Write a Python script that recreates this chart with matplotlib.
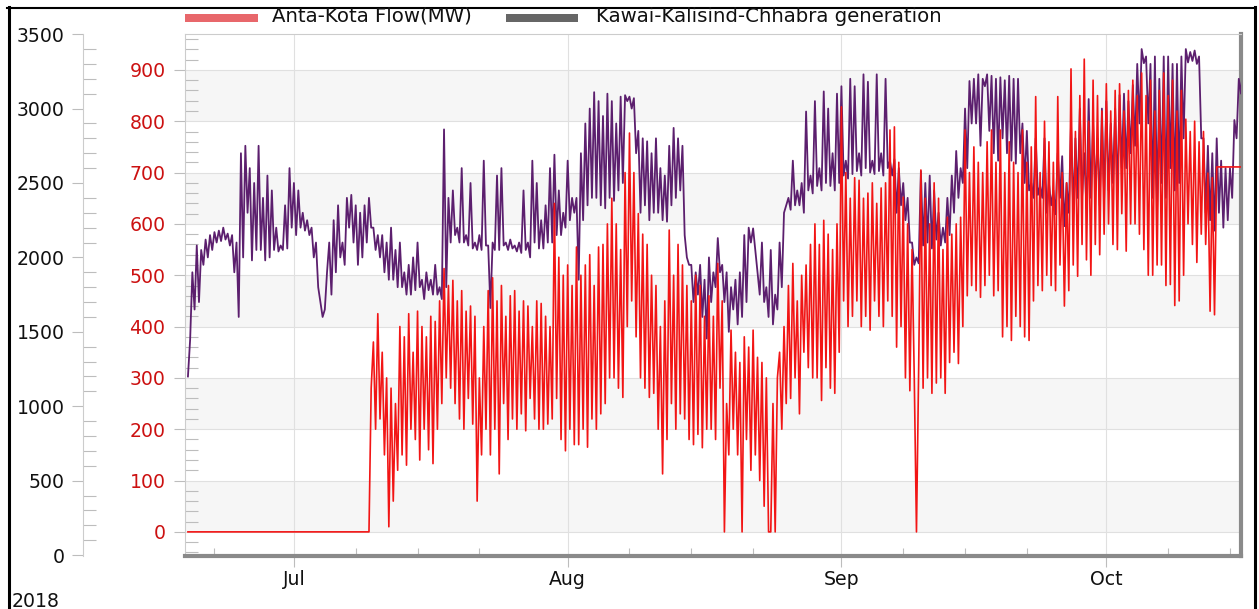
import matplotlib
matplotlib.use("Agg")
import matplotlib.pyplot as plt
import matplotlib.dates as mdates
from matplotlib.ticker import MultipleLocator, FixedLocator
from matplotlib.lines import Line2D
from matplotlib.patches import Rectangle
import pandas as pd

plt.rcParams['font.family'] = ['DejaVu Sans']

# ---------------- data (4 readings per day, starting 2018-06-19) ----------------
series_start = "2018-06-19"
series_step = "6h"

# Kawai-Kalisind-Chhabra generation (MW) - left black axis
kkc_jun = [1200, 1450, 1900, 1650, 2080, 1700, 2050, 1950, 2120, 2000, 2150, 2050,
           2170, 2100, 2180, 2110, 2200, 2120, 2160, 2080, 2150, 1900, 2100, 1600,
           2700, 2000, 2750, 2300, 2600, 1980, 2500, 2050, 2750, 2050, 2400, 1980,
           2550, 2000, 2450, 2050, 2200, 2040, 2080, 2050, 2350, 2060, 2600, 2200]
kkc_jul = [2500, 2150, 2450, 2200, 2300, 2180, 2250, 2150, 2200, 2000, 2100, 1800,
           1700, 1600, 1650, 1900, 2100, 1750, 2250, 1900, 2350, 2000, 2100, 1950,
           2400, 2200, 2420, 2100, 2350, 1950, 2300, 2000, 2350, 2100, 2400, 2200,
           2200, 2050, 2150, 2000, 2150, 1900, 2100, 1850, 2200, 1850, 2050, 1800,
           2100, 1800, 1900, 1750, 1950, 1750, 2000, 1780, 2100, 1800, 1850, 1720,
           1900, 1780, 1850, 1750, 1950, 1750, 1800, 1720, 2860, 1800, 2400, 2100,
           2450, 2150, 2200, 2100, 2600, 2100, 2150, 2080, 2500, 2060, 2100, 2050,
           2150, 2050, 2650, 2080, 2080, 1660, 2100, 2050, 2550, 2050, 2600, 2080,
           2100, 2050, 2120, 2060, 2080, 2040, 2100, 2030, 2450, 2050, 2100, 2000,
           2650, 2100, 2500, 2060, 2250, 2060, 2350, 2100, 2600, 2100, 2690, 2150,
           2450, 2150, 2300, 2200]
kkc_aug = [2650, 2250, 2400, 2300, 2400, 1850, 2700, 2250, 2900, 2350, 3000, 2400,
           3110, 2400, 3050, 2350, 2950, 2330, 3100, 2400, 3050, 2380, 2900, 2450,
           3080, 2500, 3090, 3050, 3080, 3000, 3070, 2700, 2850, 2300, 2800, 2350,
           2780, 2250, 2700, 2300, 2800, 2300, 2600, 2250, 2550, 2240, 2750, 2350,
           2870, 2400, 2800, 2450, 2750, 2150, 2000, 1950, 1950, 1700, 1900, 1750,
           1950, 1600, 1850, 1455, 2000, 1700, 1900, 1800, 2130, 1900, 1950, 1700,
           1900, 1500, 1800, 1650, 1850, 1550, 1900, 1600, 2150, 1700, 2200, 2100,
           2195, 2050, 1900, 1750, 2100, 1700, 1800, 1600, 2050, 1550, 1750, 1650,
           2100, 1800, 2300, 2350, 2400, 2320, 2650, 2350, 2450, 2350, 2500, 2300,
           2980, 2450, 2550, 2430, 3050, 2480, 2600, 2450, 3115, 2500, 3000, 2480,
           2700, 2450, 3100, 2500]
kkc_sep = [3150, 2550, 2650, 2530, 3200, 2560, 3150, 2580, 2700, 2550, 3230, 2600,
           3180, 2570, 2650, 2560, 3230, 2580, 2700, 2550, 3200, 2600, 2650, 2550,
           2660, 2300, 2600, 2350, 2500, 2250, 2400, 2100, 2100, 1950, 2000, 1960,
           2580, 2080, 2500, 2100, 2550, 2060, 2450, 2120, 2300, 2080, 2200, 2100,
           2400, 2150, 2550, 2300, 2715, 2400, 2600, 2500, 3000, 2600, 3185, 2900,
           3200, 2900, 3230, 2750, 3200, 3150, 3230, 2850, 3220, 2700, 3200, 2650,
           3210, 2800, 3190, 2700, 3220, 2650, 3200, 2630, 3200, 2700, 2900, 2500,
           2850, 2450, 2500, 2400, 2800, 2420, 2480, 2400, 2800, 2300, 2500, 2350,
           2450, 2290, 2700, 2400, 2680, 2210, 2500, 2300, 2900, 2320, 2800, 2400,
           3000, 2400, 2700, 2330, 3064, 2400, 2900, 2450, 2800, 2350, 3000, 2400]
kkc_oct = [3050, 2450, 2900, 2500, 3000, 2440, 3091, 2600, 3100, 2600, 3050, 2700,
           3158, 2750, 3300, 2900, 3400, 3305, 3350, 2900, 3300, 2400, 3350, 2330,
           3200, 2500, 3350, 2400, 3350, 2600, 3300, 2450, 3300, 2500, 3350, 2800,
           3400, 3310, 3380, 3320, 3390, 3300, 3350, 2800, 2800, 2300, 2750, 2250,
           2700, 2180, 2800, 2300, 2650, 2200, 2600, 2250, 2600, 2400, 2923, 2800,
           3200, 3100, 3305, 3250]

# Anta-Kota Flow (MW) - red axis
ak_jun = [0] * 48
ak_jul = [0] * 32 + [0, 0, 0, 280,
          370, 200, 425, 220, 350, 150, 300, 10, 280, 60, 250, 120,
          400, 150, 380, 130, 425, 200, 350, 180, 430, 140, 400, 200,
          380, 160, 420, 133, 410, 200, 450, 250, 513, 300, 480, 280,
          490, 250, 450, 220, 470, 200, 430, 260, 440, 210, 420, 60,
          300, 150, 400, 200, 470, 150, 495, 200, 450, 113, 480, 250,
          420, 180, 460, 220, 470, 200, 430, 230, 450, 197, 440, 260,
          400, 220, 450, 200, 445, 200, 420, 210, 400, 220, 640, 260,
          535, 180, 500, 158]
ak_aug = [520, 200, 480, 170, 555, 170, 500, 200, 520, 165, 540, 220,
          480, 200, 555, 230, 560, 250, 600, 300, 650, 300, 600, 280,
          550, 262, 700, 400, 777, 450, 700, 380, 620, 300, 580, 280,
          560, 262, 500, 270, 480, 200, 400, 113, 450, 180, 588, 250,
          500, 200, 560, 230, 520, 220, 480, 180, 450, 170, 500, 190,
          480, 164, 420, 200, 460, 200, 420, 180, 523, 280, 450, 0,
          250, 150, 393, 200, 350, 150, 330, 0, 380, 180, 360, 120,
          393, 150, 340, 100, 330, 50, 300, 0, 0, 250, 0, 300,
          350, 200, 400, 250, 480, 260, 523, 300, 450, 230, 500, 350,
          520, 320, 560, 300, 600, 300, 560, 256, 607, 320, 580, 280,
          550, 270, 600, 350]
ak_sep = [828, 450, 700, 400, 650, 420, 690, 450, 685, 400, 650, 420,
          660, 393, 680, 450, 640, 420, 670, 400, 680, 450, 783, 420,
          789, 360, 720, 400, 652, 300, 600, 275, 550, 300, 0, 320,
          705, 280, 650, 300, 600, 270, 680, 290, 650, 300, 550, 270,
          613, 330, 580, 350, 600, 328, 613, 400, 783, 460, 700, 480,
          750, 470, 720, 457, 700, 480, 760, 500, 783, 460, 720, 470,
          783, 380, 700, 400, 760, 373, 720, 420, 700, 400, 783, 380,
          720, 373, 750, 450, 848, 480, 700, 470, 800, 500, 760, 480,
          720, 470, 848, 520, 700, 440, 680, 470, 902, 520, 780, 498,
          850, 560, 921, 530, 800, 500, 880, 560, 850, 540, 820, 580]
ak_oct = [873, 600, 820, 560, 860, 550, 873, 620, 820, 547, 860, 600,
          880, 600, 850, 580, 894, 550, 850, 500, 880, 500, 820, 520,
          860, 520, 894, 480, 850, 482, 880, 441, 820, 450, 860, 500,
          804, 600, 780, 560, 800, 525, 760, 580, 780, 560, 699, 430,
          690, 423, 711, 711, 711, 711, 711, 711, 711, 711, 711, 711,
          711, 711, 711, 711]

legend_labels = ["Anta-Kota Flow(MW)", "Kawai-Kalisind-Chhabra generation"]
year_label = "2018"

kkc = kkc_jun + kkc_jul + kkc_aug + kkc_sep + kkc_oct
ak = ak_jun + ak_jul + ak_aug + ak_sep + ak_oct
times = pd.date_range(series_start, periods=len(kkc), freq=series_step)

# ---------------- figure ----------------
W, H = 1259, 609
fig = plt.figure(figsize=(W / 100, H / 100), dpi=100)
L, R, T, B = 185, 1241, 34, 556
ax = fig.add_axes([L / W, 1 - B / H, (R - L) / W, (B - T) / H])

FS = 13.6
TICKC = '#bdbdbd'

# red axis (main)
ax.set_ylim(-47, 970)
ax.set_xlim(pd.Timestamp("2018-06-18 16:00"), pd.Timestamp("2018-10-16 06:00"))
for lo in range(0, 900, 200):
    ax.axhspan(lo, lo + 100, color='#f6f6f6', lw=0, zorder=0)
ax.yaxis.set_major_locator(MultipleLocator(100))
ax.yaxis.set_minor_locator(MultipleLocator(20))
ax.tick_params(axis='y', which='major', direction='out', length=8, width=0.8,
               color=TICKC, labelcolor='#cc1111', labelsize=FS, pad=6)
ax.tick_params(axis='y', which='minor', direction='in', length=9, width=0.8, color=TICKC)
ax.xaxis.set_major_locator(mdates.MonthLocator())
ax.xaxis.set_major_formatter(mdates.DateFormatter('%b'))
ax.xaxis.set_minor_locator(mdates.DayLocator(bymonthday=[8, 15, 22]))
ax.tick_params(axis='x', which='major', direction='out', length=8, width=0.8,
               color=TICKC, labelcolor='#111111', labelsize=FS, pad=2)
ax.tick_params(axis='x', which='minor', direction='in', length=6, width=0.8, color=TICKC)
ax.grid(True, which='major', axis='both', color='#e0e0e0', lw=0.8)
ax.set_axisbelow(True)
for s in ('top', 'left'):
    ax.spines[s].set_color('#cccccc')
    ax.spines[s].set_linewidth(0.8)
for s in ('bottom', 'right'):
    ax.spines[s].set_color('#8a8a8a')
    ax.spines[s].set_linewidth(3)

# black axis (generation)
ax2 = ax.twinx()
ax2.set_ylim(-6, 3501)
ax2.yaxis.tick_left()
ax2.yaxis.set_label_position('left')
ax2.spines['left'].set_position(('outward', 73.4))
ax2.spines['left'].set_visible(True)
ax2.spines['left'].set_color('#cccccc')
ax2.spines['left'].set_linewidth(0.8)
for s in ('right', 'top', 'bottom'):
    ax2.spines[s].set_visible(False)
ax2.yaxis.set_major_locator(MultipleLocator(500))
ax2.yaxis.set_minor_locator(MultipleLocator(100))
ax2.tick_params(axis='y', which='major', direction='out', length=8, width=0.8,
                color=TICKC, labelcolor='#111111', labelsize=FS, pad=5)
ax2.tick_params(axis='y', which='minor', direction='in', length=9, width=0.8, color=TICKC)
ax2.plot(times, kkc, color='#5c1f6e', lw=1.3)

# red series on top
ax3 = ax.twinx()
ax3.set_ylim(ax.get_ylim())
ax3.axis('off')
ax3.plot(times, ak, color='#f21515', lw=1.2)

# legend
def px_rect(x0, y0, w, h, color):
    fig.add_artist(Rectangle((x0 / W, 1 - (y0 + h) / H), w / W, h / H,
                             transform=fig.transFigure, color=color, lw=0))

px_rect(185, 14, 73, 8, '#e8676b')
fig.text(272 / W, 1 - 22 / H, legend_labels[0], ha='left', va='baseline',
         fontsize=14.2, color='#111111')
px_rect(506, 14, 72, 8, '#666666')
fig.text(596 / W, 1 - 22 / H, legend_labels[1], ha='left', va='baseline',
         fontsize=14.2, color='#111111')

fig.text(12 / W, 1 - 607 / H, year_label, ha='left', va='baseline',
         fontsize=FS, color='#111111')

# outer frame
fig.add_artist(Line2D([8.5 / W, 8.5 / W], [0, 1 - 7 / H], transform=fig.transFigure,
                      color='black', lw=2.2))
fig.add_artist(Line2D([7 / W, 1255 / W], [1 - 8 / H, 1 - 8 / H], transform=fig.transFigure,
                      color='black', lw=1.5))
fig.add_artist(Line2D([1255 / W, 1255 / W], [0, 1 - 7 / H], transform=fig.transFigure,
                      color='black', lw=2.2))

fig.savefig("out.png", dpi=100)
